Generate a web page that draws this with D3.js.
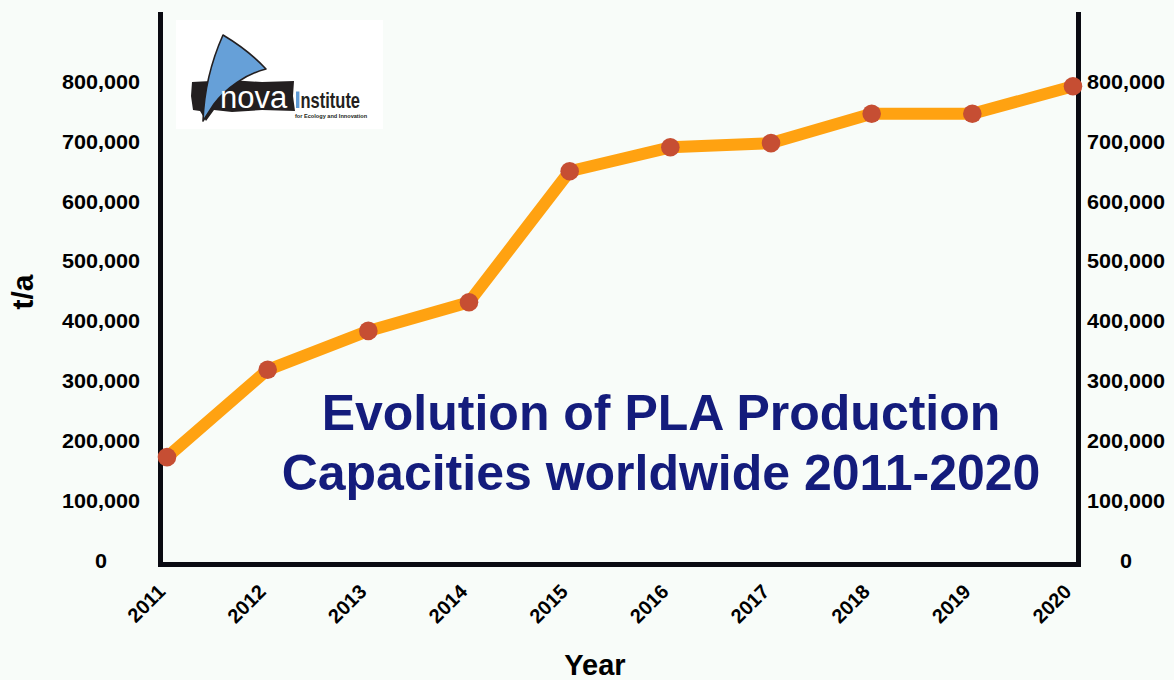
<!DOCTYPE html>
<html>
<head>
<meta charset="utf-8">
<script src="https://cdn.jsdelivr.net/npm/d3@7"></script>
<style>
  html, body { margin: 0; padding: 0; background: #f8fcf9; }
  svg { display: block; font-family: "Liberation Sans", Arial, Helvetica, sans-serif; }
</style>
</head>
<body>
<div id="chart-area"></div>
<script>
// data
var years = [2011, 2012, 2013, 2014, 2015, 2016, 2017, 2018, 2019, 2020];
var capacity = [172000, 318000, 383000, 431000, 650000, 690000, 697000, 746000, 746000, 792000];
var yTicks = [0, 100000, 200000, 300000, 400000, 500000, 600000, 700000, 800000];
var titleLines = ["Evolution of PLA Production", "Capacities worldwide 2011-2020"];

var width = 1174, height = 680;

var svg = d3.select("#chart-area").append("svg")
	.attr("width", width)
	.attr("height", height);

svg.append("rect")
	.attr("width", width)
	.attr("height", height)
	.attr("fill", "#f8fcf9");

var x = d3.scaleLinear()
	.domain([2011, 2020])
	.range([167, 1073]);

var y = d3.scaleLinear()
	.domain([0, 800000])
	.range([560, 81.5]);

// logo box
var logo = svg.append("g");
logo.append("rect")
	.attr("x", 176).attr("y", 20)
	.attr("width", 207).attr("height", 109)
	.attr("fill", "#ffffff");
// black banner
logo.append("path")
	.attr("d", "M192,82 L230,80 L262,82 L294,81 L293,96 L295,111 L262,110 L232,112 L214,110 L206,121 L200,111 L193,110 L191,96 Z")
	.attr("fill", "#231f20");
// blue sail
logo.append("path")
	.attr("d", "M203,121 C204,92 211,62 223,35 C238,44 253,55 266,69 C246,74 226,88 214,104 Z")
	.attr("fill", "#66a0d8")
	.attr("stroke", "#231f20")
	.attr("stroke-width", 1.6)
	.attr("stroke-linejoin", "round");
logo.append("text")
	.attr("x", 220).attr("y", 107.5)
	.attr("fill", "#ffffff")
	.style("font-size", "31px")
	.text("nova");
logo.append("rect")
	.attr("x", 296).attr("y", 91.5)
	.attr("width", 3.4).attr("height", 16.5)
	.attr("fill", "#5f9bd6");
logo.append("text")
	.attr("transform", "translate(300.5,108) scale(1,1.3)")
	.attr("fill", "#231f20")
	.style("font-size", "16.5px")
	.style("font-weight", "bold")
	.text("nstitute");
logo.append("text")
	.attr("x", 295).attr("y", 117.5)
	.attr("fill", "#231f20")
	.style("font-size", "5.6px")
	.style("font-weight", "bold")
	.text("for Ecology and Innovation");

// frame
svg.append("path")
	.attr("d", "M160.5,12 V564.5 H1078.5 V12")
	.attr("fill", "none")
	.attr("stroke", "#0a0a12")
	.attr("stroke-width", 5);

// left axis labels
var yAxisL = svg.append("g")
	.attr("transform", "translate(101,0)")
	.call(d3.axisLeft(y).tickValues(yTicks).tickSize(0).tickFormat(d3.format(",")));
yAxisL.select(".domain").remove();
yAxisL.selectAll("text")
	.attr("x", 0).attr("dy", "0.35em")
	.attr("text-anchor", "middle")
	.attr("transform", "scale(1.08,1)")
	.attr("fill", "#000")
	.style("font-size", "20px")
	.style("font-weight", "bold");

// right axis labels
var yAxisR = svg.append("g")
	.attr("transform", "translate(1126,0)")
	.call(d3.axisRight(y).tickValues(yTicks).tickSize(0).tickFormat(d3.format(",")));
yAxisR.select(".domain").remove();
yAxisR.selectAll("text")
	.attr("x", 0).attr("dy", "0.35em")
	.attr("text-anchor", "middle")
	.attr("transform", "scale(1.08,1)")
	.attr("fill", "#000")
	.style("font-size", "20px")
	.style("font-weight", "bold");

// x axis labels
var xAxis = svg.append("g")
	.attr("transform", "translate(0,593)")
	.call(d3.axisBottom(x).tickValues(years).tickSize(0).tickFormat(function(d){ return d; }));
xAxis.select(".domain").remove();
xAxis.selectAll("text")
	.attr("x", 0).attr("y", 0).attr("dy", 0)
	.attr("text-anchor", "end")
	.attr("transform", "translate(-1,0) rotate(-45)")
	.attr("fill", "#000")
	.style("font-size", "20px")
	.style("font-weight", "bold");

// axis titles
svg.append("text")
	.attr("transform", "translate(33,292) rotate(-90)")
	.attr("text-anchor", "middle")
	.style("font-size", "30px")
	.style("font-weight", "bold")
	.text("t/a");

svg.append("text")
	.attr("x", 595).attr("y", 675)
	.attr("text-anchor", "middle")
	.style("font-size", "29px")
	.style("font-weight", "bold")
	.text("Year");

// line + points
var line = d3.line()
	.x(function(d, i){ return x(years[i]); })
	.y(function(d){ return y(d); });

svg.append("path")
	.datum(capacity)
	.attr("d", line)
	.attr("fill", "none")
	.attr("stroke", "#ffa211")
	.attr("stroke-width", 12)
	.attr("stroke-linejoin", "round");

svg.selectAll("circle")
	.data(capacity)
	.enter()
	.append("circle")
		.attr("cx", function(d, i){ return x(years[i]); })
		.attr("cy", function(d){ return y(d); })
		.attr("r", 9.3)
		.attr("fill", "#c64e33");

// title
svg.append("g").selectAll("text")
	.data(titleLines)
	.enter()
	.append("text")
		.attr("x", 661)
		.attr("y", function(d, i){ return 430 + i * 60; })
		.attr("text-anchor", "middle")
		.attr("fill", "#141c7c")
		.style("font-size", "50px")
		.style("font-weight", "bold")
		.text(function(d){ return d; });
</script>
</body>
</html>
